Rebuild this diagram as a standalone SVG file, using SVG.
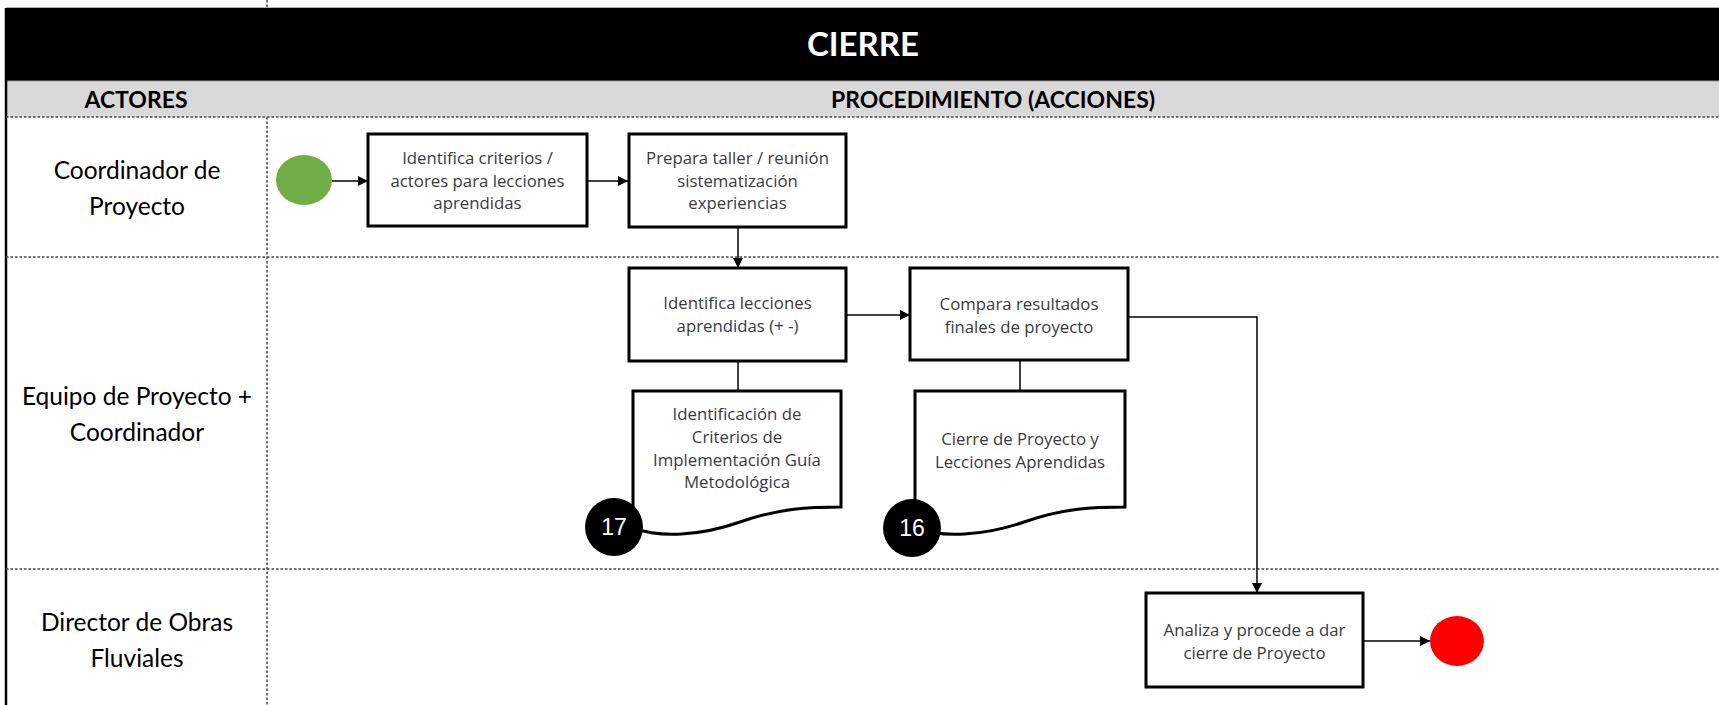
<svg xmlns="http://www.w3.org/2000/svg" width="1719" height="705" viewBox="0 0 1719 705">
<defs>
<marker id="arr" viewBox="0 0 10 10" refX="10" refY="5" markerWidth="10" markerHeight="10" markerUnits="userSpaceOnUse" orient="auto">
<path d="M0,0 L10,5 L0,10 Z" fill="#000"/>
</marker>
</defs>
<style>
.lane{fill:none;stroke:#444;stroke-width:1.5;stroke-dasharray:2.5 2}
.box{fill:#fff;stroke:#000;stroke-width:3}
.bt{font-family:"Open Sans","Liberation Sans",sans-serif;font-size:16.8px;fill:#3a3a3a;text-anchor:middle}
.lbl{font-family:Lato,"Liberation Sans",sans-serif;font-size:24.5px;fill:#000;text-anchor:middle}
.hd{font-family:Lato,"Liberation Sans",sans-serif;font-weight:bold;fill:#000;text-anchor:middle}
.con{fill:none;stroke:#000;stroke-width:1.5}
.num{font-family:"Liberation Sans",sans-serif;font-size:23px;fill:#fff;text-anchor:middle}
</style>
<rect width="1719" height="705" fill="#fff"/>
<g id="frame">
<line x1="6" y1="8" x2="1719" y2="8" stroke="#999" stroke-width="1.5"/>
<rect x="6" y="8" width="1713" height="73" fill="#000"/>
<rect x="6" y="81" width="1713" height="36" fill="#d9d9d9"/>
<line x1="6" y1="81" x2="1719" y2="81" stroke="#999" stroke-width="1"/>
<text x="863" y="56" class="hd" font-size="33" style="fill:#fff">CIERRE</text>
<text x="136" y="108" class="hd" font-size="23">ACTORES</text>
<text x="993" y="108" class="hd" font-size="23">PROCEDIMIENTO (ACCIONES)</text>
<line x1="6" y1="8" x2="6" y2="705" stroke="#000" stroke-width="2.5"/>
<line class="lane" x1="267" y1="0" x2="267" y2="8"/>
<line class="lane" x1="267" y1="117" x2="267" y2="705"/>
<line class="lane" x1="6" y1="117" x2="1719" y2="117"/>
<line class="lane" x1="6" y1="257" x2="1719" y2="257"/>
<line class="lane" x1="6" y1="569" x2="1719" y2="569"/>
</g>
<g id="lane-labels">
<text class="lbl" x="137" y="179">Coordinador de</text>
<text class="lbl" x="137" y="215">Proyecto</text>
<text class="lbl" x="137" y="405">Equipo de Proyecto +</text>
<text class="lbl" x="137" y="441">Coordinador</text>
<text class="lbl" x="137" y="631">Director de Obras</text>
<text class="lbl" x="137" y="667">Fluviales</text>
</g>
<g id="connectors">
<line class="con" x1="332" y1="181" x2="368" y2="181" marker-end="url(#arr)"/>
<line class="con" x1="587" y1="181" x2="628" y2="181" marker-end="url(#arr)"/>
<line class="con" x1="738" y1="227" x2="738" y2="268" marker-end="url(#arr)"/>
<line class="con" x1="846" y1="315" x2="910" y2="315" marker-end="url(#arr)"/>
<line class="con" x1="738" y1="361" x2="738" y2="391"/>
<line class="con" x1="1020" y1="360" x2="1020" y2="391"/>
<polyline class="con" points="1128,317 1257,317 1257,593" marker-end="url(#arr)"/>
<line class="con" x1="1363" y1="641" x2="1430" y2="641" marker-end="url(#arr)"/>
</g>
<g id="start">
<ellipse cx="304" cy="180" rx="28" ry="25" fill="#70ad47"/>
</g>
<g id="n1">
<rect class="box" x="368" y="134" width="219" height="92"/>
<text class="bt" x="477.5" y="164">Identifica criterios /</text>
<text class="bt" x="477.5" y="186.5">actores para lecciones</text>
<text class="bt" x="477.5" y="209">aprendidas</text>
</g>
<g id="n2">
<rect class="box" x="629" y="134" width="217" height="93"/>
<text class="bt" x="737.5" y="163.5">Prepara taller / reunión</text>
<text class="bt" x="737.5" y="186.5">sistematización</text>
<text class="bt" x="737.5" y="208.5">experiencias</text>
</g>
<g id="n3">
<rect class="box" x="629" y="268" width="217" height="93"/>
<text class="bt" x="737.5" y="308.5">Identifica lecciones</text>
<text class="bt" x="737.5" y="332">aprendidas (+ -)</text>
</g>
<g id="n4">
<rect class="box" x="910" y="268" width="218" height="92"/>
<text class="bt" x="1019" y="309.5">Compara resultados</text>
<text class="bt" x="1019" y="332.5">finales de proyecto</text>
</g>
<g id="d1">
<path class="box" d="M633,391 H841 V507 C810,507 780,508 740,522 C700,536 660,538 633,528 Z"/>
<text class="bt" x="737" y="420">Identificación de</text>
<text class="bt" x="737" y="443">Criterios de</text>
<text class="bt" x="737" y="466">Implementación Guía</text>
<text class="bt" x="737" y="488">Metodológica</text>
</g>
<g id="c17">
<circle cx="614" cy="527" r="29" fill="#000"/>
<text class="num" x="614" y="535">17</text>
</g>
<g id="d2">
<path class="box" d="M915,391 H1125 V507 C1094,507 1064,508 1024,522 C984,536 942,538 915,528 Z"/>
<text class="bt" x="1020" y="445">Cierre de Proyecto y</text>
<text class="bt" x="1020" y="468">Lecciones Aprendidas</text>
</g>
<g id="c16">
<circle cx="912" cy="528" r="29" fill="#000"/>
<text class="num" x="912" y="536">16</text>
</g>
<g id="n5">
<rect class="box" x="1146" y="593" width="217" height="94"/>
<text class="bt" x="1254.5" y="636">Analiza y procede a dar</text>
<text class="bt" x="1254.5" y="659">cierre de Proyecto</text>
</g>
<g id="end">
<ellipse cx="1457" cy="641" rx="27" ry="25" fill="#ff0000"/>
</g>
</svg>
